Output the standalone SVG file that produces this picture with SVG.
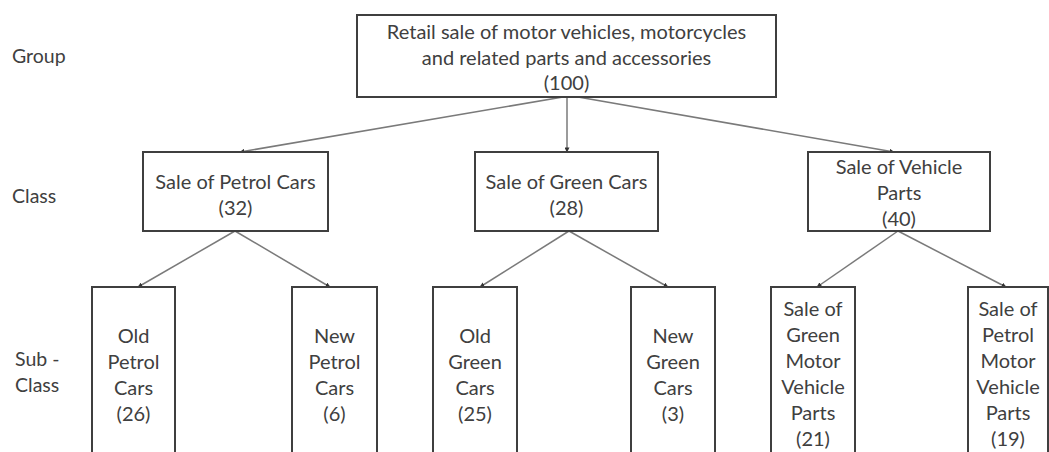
<svg xmlns="http://www.w3.org/2000/svg" width="1049" height="452" viewBox="0 0 1049 452">
  <style>
    .box { fill: #ffffff; stroke: #3f3f3f; stroke-width: 2; }
    .lbl { font-family: Lato, "Liberation Sans", sans-serif; font-size: 20px; fill: #404040; text-anchor: middle; dominant-baseline: central; }
    .side { font-family: Lato, "Liberation Sans", sans-serif; font-size: 19.5px; fill: #404040; dominant-baseline: central; }
    .link { stroke: #7a7a7a; stroke-width: 1.5; fill: none; marker-end: url(#tip); }
  </style>
  <defs>
    <marker id="tip" viewBox="0 0 6 6" refX="5.5" refY="3" markerWidth="5" markerHeight="5" orient="auto" markerUnits="userSpaceOnUse">
      <path d="M0,0 L6,3 L0,6 z" fill="#333333"/>
    </marker>
  </defs>
  <rect width="1049" height="452" fill="#ffffff"/>

  <!-- level captions -->
  <g id="levels">
    <text class="side" x="12" y="55">Group</text>
    <text class="side" x="12" y="195">Class</text>
    <text class="side" x="15" y="358">Sub -</text>
    <text class="side" x="15" y="384">Class</text>
  </g>

  <!-- connectors -->
  <g id="connectors">
    <line class="link" x1="563" y1="97" x2="240" y2="152"/>
    <line class="link" x1="567" y1="97" x2="567" y2="152"/>
    <line class="link" x1="578" y1="97" x2="894" y2="152"/>
    <line class="link" x1="235" y1="231" x2="138" y2="287"/>
    <line class="link" x1="235" y1="231" x2="330" y2="287"/>
    <line class="link" x1="569" y1="231" x2="480" y2="287"/>
    <line class="link" x1="569" y1="231" x2="668" y2="287"/>
    <line class="link" x1="898" y1="231" x2="817" y2="287"/>
    <line class="link" x1="898" y1="231" x2="1006" y2="287"/>
  </g>

  <g id="group-retail">
    <rect class="box" x="357" y="15" width="419" height="82"/>
    <text class="lbl" x="566.5" y="31">Retail sale of motor vehicles, motorcycles</text>
    <text class="lbl" x="566.5" y="57">and related parts and accessories</text>
    <text class="lbl" x="566.5" y="82">(100)</text>
  </g>

  <g id="class-petrol">
    <rect class="box" x="143" y="152" width="185" height="79"/>
    <text class="lbl" x="235.5" y="181">Sale of Petrol Cars</text>
    <text class="lbl" x="235.5" y="207">(32)</text>
  </g>

  <g id="class-green">
    <rect class="box" x="475" y="152" width="183" height="79"/>
    <text class="lbl" x="566.5" y="181">Sale of Green Cars</text>
    <text class="lbl" x="566.5" y="207">(28)</text>
  </g>

  <g id="class-parts">
    <rect class="box" x="808" y="152" width="182" height="79"/>
    <text class="lbl" x="899" y="166">Sale of Vehicle</text>
    <text class="lbl" x="899" y="192">Parts</text>
    <text class="lbl" x="899" y="218">(40)</text>
  </g>

  <g id="sub-old-petrol">
    <rect class="box" x="92" y="287" width="83" height="190"/>
    <text class="lbl" x="133.5" y="335">Old</text>
    <text class="lbl" x="133.5" y="361">Petrol</text>
    <text class="lbl" x="133.5" y="387">Cars</text>
    <text class="lbl" x="133.5" y="413">(26)</text>
  </g>

  <g id="sub-new-petrol">
    <rect class="box" x="292" y="287" width="85" height="190"/>
    <text class="lbl" x="334.5" y="335">New</text>
    <text class="lbl" x="334.5" y="361">Petrol</text>
    <text class="lbl" x="334.5" y="387">Cars</text>
    <text class="lbl" x="334.5" y="413">(6)</text>
  </g>

  <g id="sub-old-green">
    <rect class="box" x="433" y="287" width="84" height="190"/>
    <text class="lbl" x="475" y="335">Old</text>
    <text class="lbl" x="475" y="361">Green</text>
    <text class="lbl" x="475" y="387">Cars</text>
    <text class="lbl" x="475" y="413">(25)</text>
  </g>

  <g id="sub-new-green">
    <rect class="box" x="631" y="287" width="84" height="190"/>
    <text class="lbl" x="673" y="335">New</text>
    <text class="lbl" x="673" y="361">Green</text>
    <text class="lbl" x="673" y="387">Cars</text>
    <text class="lbl" x="673" y="413">(3)</text>
  </g>

  <g id="sub-green-parts">
    <rect class="box" x="771" y="287" width="84" height="190"/>
    <text class="lbl" x="813" y="308">Sale of</text>
    <text class="lbl" x="813" y="334">Green</text>
    <text class="lbl" x="813" y="360">Motor</text>
    <text class="lbl" x="813" y="386">Vehicle</text>
    <text class="lbl" x="813" y="412">Parts</text>
    <text class="lbl" x="813" y="438">(21)</text>
  </g>

  <g id="sub-petrol-parts">
    <rect class="box" x="968" y="287" width="80" height="190"/>
    <text class="lbl" x="1008" y="308">Sale of</text>
    <text class="lbl" x="1008" y="334">Petrol</text>
    <text class="lbl" x="1008" y="360">Motor</text>
    <text class="lbl" x="1008" y="386">Vehicle</text>
    <text class="lbl" x="1008" y="412">Parts</text>
    <text class="lbl" x="1008" y="438">(19)</text>
  </g>
</svg>
